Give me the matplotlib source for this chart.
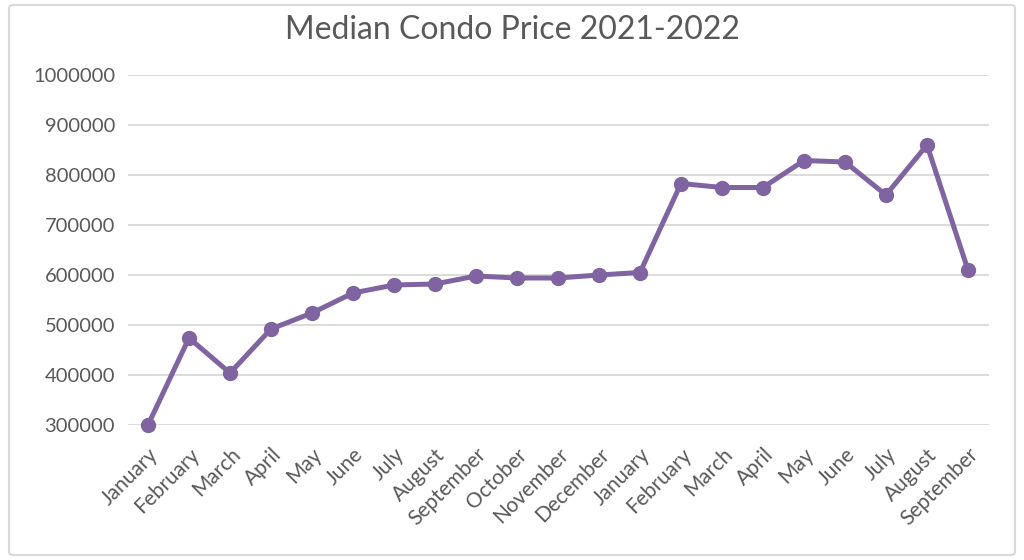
import matplotlib
matplotlib.use("Agg")
import matplotlib.pyplot as plt
from matplotlib.patches import FancyBboxPatch

months = ["January", "February", "March", "April", "May", "June", "July",
          "August", "September", "October", "November", "December",
          "January", "February", "March", "April", "May", "June", "July",
          "August", "September"]
prices = [300000, 474000, 404000, 492000, 524000, 564000, 580000, 582000,
          598000, 594000, 594000, 600000, 605000, 783000, 775000, 775000,
          829000, 826000, 760000, 860000, 610000]
yticks = [300000, 400000, 500000, 600000, 700000, 800000, 900000, 1000000]
title = "Median Condo Price 2021-2022"

plt.rcParams['font.family'] = ['Lato', 'DejaVu Sans']
text_color = "#595959"
line_color = "#8064A2"

fig = plt.figure(figsize=(10.24, 5.6), dpi=100)
fig.patch.set_facecolor("white")
border = FancyBboxPatch((9/1024, 5/560), (1015-9)/1024, (555-5)/560,
                        boxstyle="round,pad=0,rounding_size=0.005",
                        transform=fig.transFigure, fill=False,
                        edgecolor="#d9d9d9", linewidth=1.5)
fig.patches.append(border)

ax = fig.add_axes([127.5/1024, 1-425/560, (988.5-127.5)/1024, (425-75)/560])
x = list(range(len(months)))
ax.plot(x, prices, color=line_color, linewidth=3.6, marker='o',
        markersize=10, zorder=3, clip_on=False)
ax.set_xlim(-0.5, len(months)-0.5)
ax.set_ylim(300000, 1000000)
ax.set_yticks(yticks)
ax.set_yticklabels([str(v) for v in yticks], fontsize=14.5, color=text_color)
ax.set_xticks(x)
ax.set_xticklabels(months, rotation=45, ha='right', rotation_mode='anchor',
                   fontsize=15, color=text_color)
ax.tick_params(axis='both', length=0)
ax.tick_params(axis='y', pad=9)
ax.tick_params(axis='x', pad=14)
ax.grid(axis='y', color="#d9d9d9", linewidth=1.3)
ax.set_axisbelow(True)
for s in ax.spines.values():
    s.set_visible(False)

fig.text(0.5, 1-30/560, title, ha='center', va='center', fontsize=23,
         color=text_color)

fig.savefig("out.png", dpi=100)
